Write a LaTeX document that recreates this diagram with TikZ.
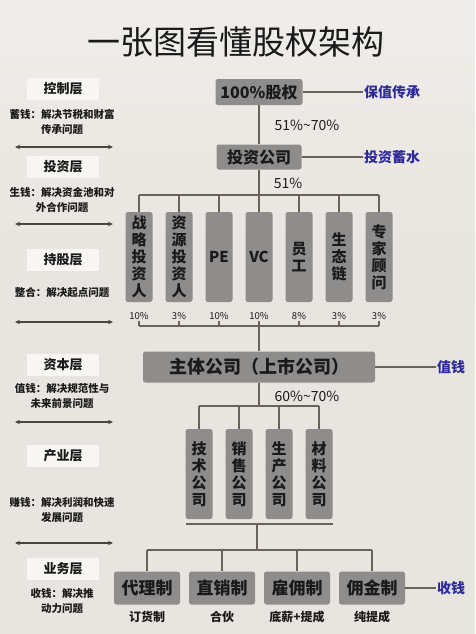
\documentclass[tikz,border=0pt]{standalone}
\usepackage{fontspec}
\setmainfont{Noto Sans CJK SC}
\usetikzlibrary{arrows.meta}
\definecolor{bg}{HTML}{E8E4DF}
\definecolor{boxg}{HTML}{8E8D8C}
\definecolor{ln}{HTML}{6A6159}
\definecolor{blu}{HTML}{2E2A9C}
\definecolor{lbl}{HTML}{F8F6F3}
\definecolor{txt}{HTML}{1A1A1A}
\begin{document}
\begin{tikzpicture}[x=1pt,y=-1pt,
  gbox/.style={fill=boxg, rounded corners=2.5pt, inner sep=0pt, text=txt},
  vbox/.style={gbox, minimum width=27pt, minimum height=90pt, align=center, font=\fontsize{15}{17}\selectfont\bfseries},
  bbox/.style={gbox, minimum width=66pt, minimum height=33pt, font=\fontsize{17}{17}\selectfont\bfseries},
  conn/.style={draw=ln, line width=1.4pt},
  bluelbl/.style={text=blu, inner sep=1pt, anchor=west, font=\fontsize{14}{14}\selectfont\bfseries},
  pct/.style={font=\fontsize{9.5}{9.5}\selectfont, text=txt, inner sep=1pt},
  share/.style={font=\fontsize{14}{14}\selectfont, text=txt, inner sep=1pt},
  layer/.style={fill=lbl, minimum width=72pt, minimum height=22pt, inner sep=0pt, font=\fontsize{13}{13}\selectfont\bfseries, text=txt},
  desc/.style={align=center, font=\fontsize{10.5}{15}\selectfont\bfseries, text=txt, inner sep=0pt},
  sub/.style={font=\fontsize{12}{12}\selectfont\bfseries, text=txt, inner sep=0pt},
  darr/.style={draw=ln!70!black, line width=1.3pt, {Stealth[length=5pt,width=4.5pt]}-{Stealth[length=5pt,width=4.5pt]}}
]
\useasboundingbox (0,0) rectangle (475,634);
\fill[bg] (0,0) rectangle (475,634);
\shade[top color=white, bottom color=bg, opacity=0.35] (0,0) rectangle (475,300);

% title
\node[font=\fontsize{33}{33}\selectfont, text=txt] (title) at (236,42) {一张图看懂股权架构};

% left column
\node[layer] (L1) at (63,89) {控制层};
\node[desc] (D1) at (62,122) {蓄钱：解决节税和财富\\传承问题};
\coordinate (A1l) at (15,147); \coordinate (A1r) at (113,147);
\draw[darr] (A1l) -- (A1r);
\node[layer] (L2) at (63,167) {投资层};
\node[desc] (D2) at (62,200) {生钱：解决资金池和对\\外合作问题};
\coordinate (A2l) at (15,224); \coordinate (A2r) at (113,224);
\draw[darr] (A2l) -- (A2r);
\node[layer] (L3) at (63,260) {持股层};
\node[desc] (D3) at (62,293) {整合：解决起点问题};
\coordinate (A3l) at (15,322); \coordinate (A3r) at (113,322);
\draw[darr] (A3l) -- (A3r);
\node[layer] (L4) at (63,365) {资本层};
\node[desc] (D4) at (62,396) {值钱：解决规范性与\\未来前景问题};
\coordinate (A4l) at (15,422); \coordinate (A4r) at (113,422);
\draw[darr] (A4l) -- (A4r);
\node[layer] (L5) at (63,456) {产业层};
\node[desc] (D5) at (62,510) {赚钱：解决利润和快速\\发展问题};
\coordinate (A5l) at (15,543); \coordinate (A5r) at (113,543);
\draw[darr] (A5l) -- (A5r);
\node[layer] (L6) at (63,569) {业务层};
\node[desc] (D6) at (62,601) {收钱：解决推\\动力问题};

% top chain
\node[gbox, minimum width=87pt, minimum height=26pt, font=\fontsize{16}{16}\selectfont\bfseries] (eq) at (259,92) {100\%股权};
\node[gbox, minimum width=85pt, minimum height=25pt, font=\fontsize{16}{16}\selectfont\bfseries] (inv) at (259,157) {投资公司};
\draw[conn] (eq) -- (inv);
\node[share] (s1) at (307,125) {51\%\textasciitilde70\%};
\node[bluelbl] (r1) at (363,92) {保值传承};
\node[bluelbl] (r2) at (363,157) {投资蓄水};
\draw[conn] (eq) -- (r1);
\draw[conn] (inv) -- (r2);
\node[share] (s2) at (288,183) {51\%};

% shareholders
\coordinate (busT) at (259,195);
\coordinate (busB) at (259,326);
\foreach \i/\x/\t/\p in {1/139/战\\略\\投\\资\\人/10\%, 2/179/资\\源\\投\\资\\人/3\%, 3/219/PE/10\%, 4/259/VC/10\%, 5/299/员\\工/8\%, 6/339/生\\态\\链/3\%, 7/379/专\\家\\顾\\问/3\%}{
  \node[vbox] (c\i) at (\x,257) {\t};
  \node[pct] (p\i) at (\x,316) {\p};
  \coordinate (t\i) at (\x,195);
  \coordinate (b\i) at (\x,326);
  \draw[conn] (t\i) -- (c\i);
  \draw[conn] (p\i) -- (b\i);
}
\draw[conn] (inv) -- (busT);
\draw[conn] (t1) -- (t7);
\draw[conn] (b1) -- (b7);

% main company
\node[gbox, minimum width=232pt, minimum height=31pt, font=\fontsize{18}{18}\selectfont\bfseries] (main) at (259,367) {主体公司（上市公司）};
\draw[conn] (busB) -- (main);
\node[bluelbl] (r3) at (436,367) {值钱};
\draw[conn] (main) -- (r3);
\node[share] (s3) at (307,396) {60\%\textasciitilde70\%};
\coordinate (busM) at (259,406);
\draw[conn] (main) -- (busM);

% subsidiaries
\foreach \i/\x/\t in {1/199/技\\术\\公\\司, 2/239/销\\售\\公\\司, 3/279/生\\产\\公\\司, 4/319/材\\料\\公\\司}{
  \node[vbox] (k\i) at (\x,474) {\t};
  \coordinate (m\i) at (\x,406);
  \draw[conn] (m\i) -- (k\i);
}
\draw[conn] (m1) -- (m4);
\coordinate (u1) at (186,524); \coordinate (u2) at (333,524);
\draw[conn] (u1) -- (u2);
\coordinate (uM) at (257,524); \coordinate (wM) at (257,550);
\draw[conn] (uM) -- (wM);

% business models
\foreach \i/\x/\t/\s in {1/147/代理制/订货制, 2/222/直销制/合伙, 3/297/雇佣制/底薪+提成, 4/372/佣金制/纯提成}{
  \node[bbox] (e\i) at (\x,588) {\t};
  \node[sub] (f\i) at (\x,617) {\s};
  \coordinate (w\i) at (\x,550);
  \draw[conn] (w\i) -- (e\i);
}
\draw[conn] (w1) -- (w4);
\node[bluelbl] (r4) at (436,588) {收钱};
\draw[conn] (e4) -- (r4);
\end{tikzpicture}
\end{document}
